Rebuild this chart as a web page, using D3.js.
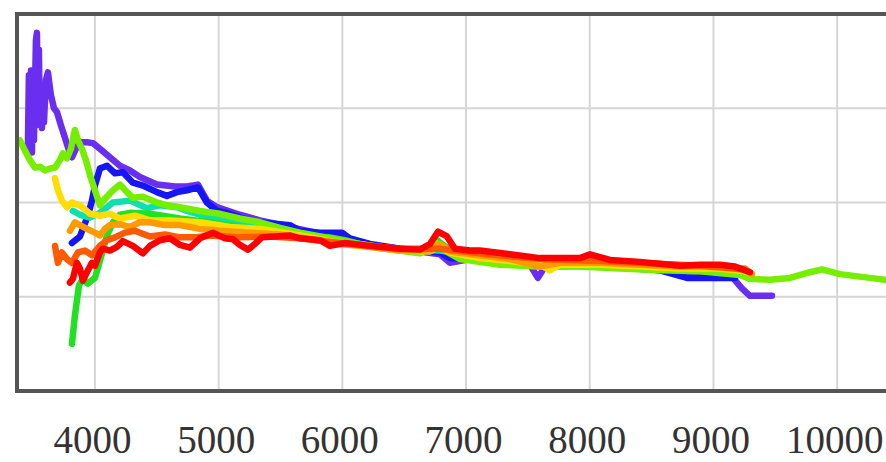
<!DOCTYPE html>
<html><head><meta charset="utf-8">
<script src="https://cdn.jsdelivr.net/npm/d3@7"></script>
<style>html,body{margin:0;padding:0;background:#fff;overflow:hidden}</style>
</head><body>
<svg id="chart" width="886" height="462"></svg>
<script>
const xTicks = [4000, 5000, 6000, 7000, 8000, 9000, 10000];
const yGrid = [1, 2, 3];

const purple = [[3458,2.57],[3466,3.35],[3475,2.55],[3483,3.40],[3491,2.53],[3499,3.40],[3507,2.66],[3523,3.72],[3531,3.80],[3539,2.87],[3547,3.62],[3555,2.82],[3563,3.19],[3572,2.79],[3580,3.21],[3588,2.85],[3604,3.30],[3620,3.38],[3644,3.14],[3669,3.00],[3693,2.96],[3725,2.82],[3757,2.69],[3790,2.55],[3814,2.48],[3846,2.57],[3879,2.64],[3935,2.64],[3984,2.63],[4040,2.57],[4121,2.48],[4202,2.39],[4283,2.34],[4364,2.27],[4501,2.19],[4647,2.17],[4744,2.17],[4833,2.19],[4905,2.02],[4986,1.95],[5172,1.87],[5334,1.81],[5576,1.74],[5819,1.67],[6021,1.62],[6223,1.55],[6466,1.51],[6789,1.45],[6870,1.36],[7032,1.40],[7274,1.37],[7517,1.34],[7581,1.20],[7638,1.32],[7921,1.33],[8244,1.31],[8567,1.28],[8891,1.24],[9158,1.20],[9230,1.09],[9295,1.01],[9473,1.01]];
const blue = [[3814,1.57],[3879,1.64],[3943,1.86],[3976,2.02],[4000,2.18],[4040,2.36],[4097,2.39],[4162,2.31],[4226,2.32],[4307,2.21],[4388,2.18],[4501,2.11],[4582,2.07],[4663,2.11],[4744,2.13],[4833,2.16],[4905,2.00],[4986,1.91],[5067,1.89],[5172,1.84],[5310,1.79],[5415,1.78],[5576,1.76],[5657,1.70],[5819,1.68],[5997,1.68],[6061,1.62],[6223,1.56],[6466,1.51],[6627,1.49],[6789,1.47],[6870,1.41],[7112,1.39],[7355,1.37],[7597,1.35],[7921,1.35],[8244,1.32],[8567,1.28],[8786,1.20],[9053,1.20],[9174,1.20]];
const cyan = [[3822,1.91],[3879,1.87],[3960,1.84],[4040,1.89],[4146,2.00],[4283,2.02],[4420,1.94],[4525,1.97],[4663,1.95],[4744,1.91],[4849,1.87],[5091,1.81],[5334,1.76],[5657,1.66],[5981,1.59],[6466,1.50],[6789,1.49],[7112,1.43],[7597,1.36],[8082,1.36],[8406,1.36],[8891,1.32],[9255,1.28]];
const green = [[3814,0.50],[3838,0.80],[3871,1.12],[3903,1.19],[3943,1.14],[4000,1.20],[4040,1.38],[4097,1.65],[4146,1.79],[4202,1.87],[4283,1.89],[4445,1.88],[4687,1.83],[4930,1.79],[5172,1.74],[5415,1.69],[5657,1.64],[5900,1.63],[6021,1.60],[6223,1.53],[6466,1.49],[6627,1.47],[6765,1.60],[6846,1.52],[6951,1.43],[7274,1.36],[7597,1.34],[7921,1.34],[8244,1.32],[8567,1.30],[8891,1.29],[9214,1.27],[9295,1.23]];
const lime = [[3394,2.66],[3434,2.55],[3475,2.45],[3515,2.37],[3555,2.38],[3596,2.34],[3636,2.36],[3677,2.37],[3717,2.45],[3741,2.52],[3774,2.47],[3806,2.57],[3838,2.77],[3863,2.66],[3895,2.57],[3927,2.45],[3960,2.29],[4000,2.13],[4040,1.97],[4081,2.04],[4146,2.13],[4202,2.19],[4259,2.11],[4307,2.05],[4388,2.06],[4501,2.00],[4582,1.97],[4687,1.95],[4849,1.91],[5011,1.88],[5172,1.83],[5334,1.79],[5496,1.73],[5657,1.68],[5900,1.62],[6142,1.56],[6466,1.49],[6627,1.46],[6765,1.57],[6829,1.49],[6951,1.40],[7274,1.34],[7597,1.32],[7921,1.32],[8244,1.30],[8567,1.28],[8891,1.27],[9214,1.23],[9295,1.19],[9457,1.18],[9618,1.20],[9780,1.26],[9877,1.29],[10022,1.24],[10265,1.20],[10508,1.16]];
const yellow = [[3677,2.26],[3701,2.13],[3733,2.02],[3774,1.95],[3814,2.00],[3879,1.97],[3960,1.88],[4040,1.86],[4121,1.88],[4202,1.83],[4323,1.86],[4445,1.81],[4606,1.81],[4849,1.79],[5091,1.74],[5334,1.72],[5657,1.65],[5981,1.57],[6223,1.53],[6466,1.49],[6708,1.48],[6789,1.54],[6870,1.47],[7112,1.41],[7355,1.38],[7597,1.34],[7678,1.28],[7759,1.34],[8082,1.34],[8406,1.32],[8729,1.30],[9053,1.30],[9255,1.27]];
const orange = [[3798,1.70],[3838,1.79],[3879,1.76],[3935,1.72],[4000,1.68],[4040,1.65],[4081,1.72],[4121,1.76],[4202,1.77],[4283,1.74],[4364,1.79],[4445,1.79],[4566,1.76],[4687,1.76],[4849,1.72],[5011,1.70],[5253,1.68],[5496,1.66],[5657,1.63],[5981,1.56],[6223,1.53],[6466,1.49],[6708,1.49],[6789,1.56],[6870,1.48],[7112,1.44],[7355,1.40],[7597,1.32],[7759,1.36],[8082,1.36],[8406,1.34],[8729,1.32],[9053,1.32],[9255,1.30],[9311,1.24]];
const orangered = [[3677,1.54],[3701,1.36],[3733,1.47],[3774,1.40],[3814,1.36],[3863,1.47],[3919,1.49],[3976,1.44],[4040,1.54],[4097,1.60],[4162,1.63],[4243,1.68],[4323,1.70],[4445,1.64],[4566,1.66],[4687,1.63],[4808,1.63],[4930,1.65],[5172,1.63],[5415,1.64],[5657,1.62],[5981,1.57],[6466,1.51],[6789,1.51],[7112,1.46],[7597,1.40],[8082,1.38],[8891,1.33],[9255,1.29]];
const red = [[3798,1.15],[3822,1.19],[3854,1.36],[3879,1.30],[3903,1.17],[3935,1.26],[3976,1.36],[4000,1.33],[4040,1.47],[4065,1.51],[4121,1.49],[4178,1.53],[4226,1.59],[4307,1.54],[4388,1.46],[4445,1.54],[4525,1.60],[4606,1.62],[4687,1.55],[4768,1.52],[4849,1.62],[4954,1.68],[5051,1.62],[5116,1.61],[5172,1.55],[5237,1.50],[5293,1.56],[5350,1.63],[5455,1.64],[5576,1.65],[5657,1.62],[5819,1.60],[5900,1.54],[6021,1.57],[6223,1.54],[6466,1.51],[6627,1.50],[6708,1.56],[6773,1.69],[6846,1.64],[6910,1.51],[7032,1.49],[7112,1.49],[7355,1.45],[7597,1.41],[7921,1.41],[8002,1.45],[8163,1.39],[8406,1.37],[8729,1.33],[8891,1.34],[9053,1.34],[9174,1.32],[9295,1.26]];

const seriesList = [
  {data: purple, color: "#6a2ff0"},
  {data: blue, color: "#1414f5"},
  {data: cyan, color: "#10e0b0"},
  {data: green, color: "#22e022"},
  {data: lime, color: "#76ee00"},
  {data: yellow, color: "#ffdd00"},
  {data: orange, color: "#ff9a00"},
  {data: orangered, color: "#ff5a00"},
  {data: red, color: "#ff0000"}
];

const svg = d3.select("#chart");
const mLeft = 17, mTop = 14, mBottom = 391, mRight = 899;
const x = d3.scaleLinear().domain([3370, 10500]).range([mLeft, mRight]);
const y = d3.scaleLinear().domain([0, 4]).range([mBottom, mTop]);

const defs = svg.append("defs");
defs.append("clipPath").attr("id", "clip").append("rect")
  .attr("x", mLeft).attr("y", mTop).attr("width", mRight - mLeft).attr("height", mBottom - mTop);
defs.append("filter").attr("id", "soft").attr("x", "-5%").attr("y", "-5%").attr("width", "110%").attr("height", "110%")
  .append("feGaussianBlur").attr("stdDeviation", 0.7);

// grid
svg.append("g").attr("filter", "url(#soft)").selectAll("line").data(xTicks).join("line")
  .attr("x1", d => x(d)).attr("x2", d => x(d)).attr("y1", mTop).attr("y2", mBottom)
  .attr("stroke", "#d6d6d6").attr("stroke-width", 2);
svg.append("g").attr("filter", "url(#soft)").selectAll("line").data(yGrid).join("line")
  .attr("x1", mLeft).attr("x2", mRight).attr("y1", d => y(d)).attr("y2", d => y(d))
  .attr("stroke", "#d6d6d6").attr("stroke-width", 2);

// lines
const line = d3.line().x(d => x(d[0])).y(d => y(d[1]));
const g = svg.append("g").attr("clip-path", "url(#clip)").append("g").attr("filter", "url(#soft)");
seriesList.forEach(s => {
  g.append("path").datum(s.data).attr("d", line)
    .attr("fill", "none").attr("stroke", s.color).attr("stroke-width", 6.5)
    .attr("stroke-linejoin", "round").attr("stroke-linecap", "round");
});

// frame
svg.append("rect").attr("x", mLeft).attr("y", mTop).attr("width", mRight - mLeft).attr("height", mBottom - mTop)
  .attr("fill", "none").attr("stroke", "#555").attr("stroke-width", 4).attr("filter", "url(#soft)");

// x axis labels
const axis = d3.axisBottom(x).tickValues(xTicks).tickSize(0).tickPadding(0).tickFormat(d3.format("d"));
const ax = svg.append("g").attr("transform", `translate(-3,${mBottom})`).call(axis);
ax.select(".domain").remove();
ax.selectAll("text")
  .attr("y", 62).attr("dy", 0)
  .attr("font-family", "'Liberation Serif', 'DejaVu Serif', serif")
  .attr("font-size", 39).attr("fill", "#333");
</script>
</body></html>
